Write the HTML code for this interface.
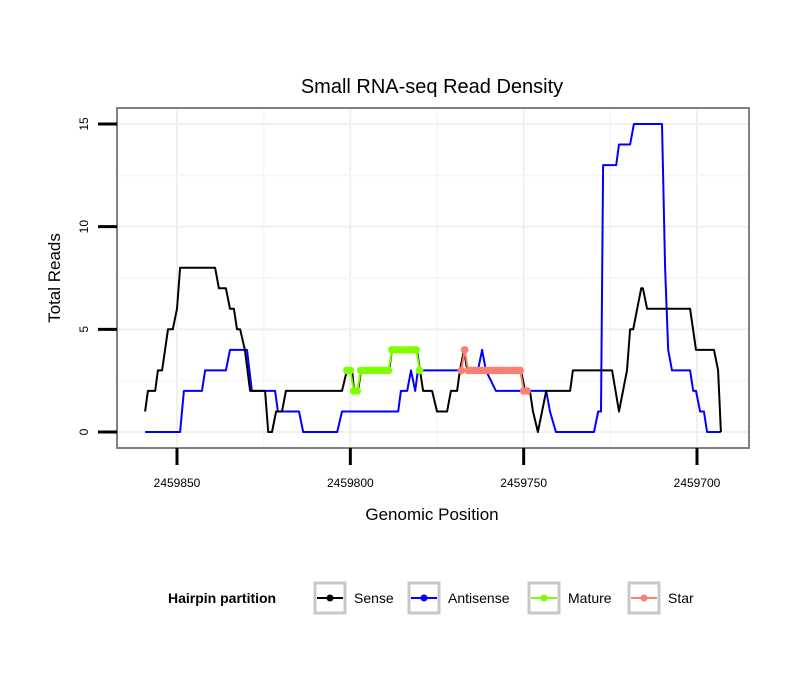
<!DOCTYPE html>
<html><head><meta charset="utf-8"><style>
body{margin:0;background:#fff;}
svg{display:block;font-family:"Liberation Sans",sans-serif;}
</style></head><body>
<svg id="chart" width="810" height="690" viewBox="0 0 810 690">
<rect x="0" y="0" width="810" height="690" fill="#fff"/>
<text x="432" y="93" font-size="20" text-anchor="middle">Small RNA-seq Read Density</text>
<g id="grid"></g>
<g id="series"></g>
<rect x="117" y="108" width="632" height="340" fill="none" stroke="#808080" stroke-width="2"/>
<g id="axes"></g>
<text x="432" y="520" font-size="17" text-anchor="middle">Genomic Position</text>
<text transform="translate(60,278) rotate(-90)" font-size="17" text-anchor="middle">Total Reads</text>
<g>
<text x="168" y="603" font-size="14" font-weight="bold">Hairpin partition</text>
<g>
<rect x="315" y="583" width="30" height="30" fill="#fff" stroke="#c8c8c8" stroke-width="3"/>
<line x1="317" y1="598" x2="343" y2="598" stroke="#000" stroke-width="2"/><circle cx="330" cy="598" r="3.5" fill="#000"/>
<text x="354" y="603" font-size="14">Sense</text></g>
<g>
<rect x="409" y="583" width="30" height="30" fill="#fff" stroke="#c8c8c8" stroke-width="3"/>
<line x1="411" y1="598" x2="437" y2="598" stroke="#0000ff" stroke-width="2"/><circle cx="424" cy="598" r="3.5" fill="#0000ff"/>
<text x="448" y="603" font-size="14">Antisense</text></g>
<g>
<rect x="529" y="583" width="30" height="30" fill="#fff" stroke="#c8c8c8" stroke-width="3"/>
<line x1="531" y1="598" x2="557" y2="598" stroke="#7fff00" stroke-width="2"/><circle cx="544" cy="598" r="3.5" fill="#7fff00"/>
<text x="568" y="603" font-size="14">Mature</text></g>
<g>
<rect x="629" y="583" width="30" height="30" fill="#fff" stroke="#c8c8c8" stroke-width="3"/>
<line x1="631" y1="598" x2="657" y2="598" stroke="#fa8072" stroke-width="2"/><circle cx="644" cy="598" r="3.5" fill="#fa8072"/>
<text x="668" y="603" font-size="14">Star</text></g>
</g>
</svg>
<script>
const xTicks = [2459850, 2459800, 2459750, 2459700];
const yTicks = [0, 5, 10, 15];
const senseX = [2459859.2,2459858.4,2459856.3,2459855.5,2459854.3,2459852.6,2459851.2,2459850,2459849.1,2459839.0,2459837.9,2459835.9,2459834.7,2459833.6,2459832.7,2459831.8,2459830.4,2459828.9,2459824.6,2459823.7,2459822.6,2459821.4,2459819.7,2459818.6,2459802.4,2459801.0,2459799.5,2459798.9,2459797.8,2459796.9,2459788.8,2459788.0,2459780.8,2459779.9,2459779.0,2459776.4,2459775.0,2459772.1,2459771.0,2459769.2,2459768.4,2459767.2,2459766.3,2459750.8,2459749.6,2459748.2,2459747.3,2459745.9,2459743.5,2459736.6,2459735.8,2459724.5,2459722.5,2459720.2,2459719.3,2459718.4,2459716.1,2459715.6,2459714.4,2459702.0,2459700.3,2459695.1,2459693.9,2459693.1];
const senseY = [1,2,2,3,3,5,5,6,8,8,7,7,6,6,5,5,4,2,2,0,0,1,1,2,2,3,3,2,2,3,3,4,4,3,2,2,1,1,2,2,3,4,3,3,2,2,1,0,2,2,3,3,1,3,5,5,7,7,6,6,4,4,3,0];
const antiX = [2459859.2,2459849.1,2459848.0,2459842.8,2459841.9,2459835.9,2459834.7,2459829.8,2459828.4,2459821.7,2459820.9,2459814.8,2459813.6,2459803.8,2459802.4,2459786.2,2459785.4,2459783.6,2459782.5,2459781.3,2459780.5,2459763.2,2459762.0,2459760.9,2459758.0,2459743.5,2459742.4,2459740.7,2459729.7,2459728.5,2459727.7,2459727.1,2459723.3,2459722.5,2459719.3,2459718.2,2459710.1,2459709.2,2459708.3,2459707.2,2459702.0,2459701.1,2459700.3,2459699.1,2459698.0,2459697.1,2459693.1];
const antiY = [0,0,2,2,3,3,4,4,2,2,1,1,0,0,1,1,2,2,3,2,3,3,4,3,2,2,1,0,0,1,1,13,13,14,14,15,15,8,4,3,3,2,2,1,1,0,0];
const matureX = [2459801,2459800,2459799,2459798,2459797,2459796,2459795,2459794,2459793,2459792,2459791,2459790,2459789,2459788,2459787,2459786,2459785,2459784,2459783,2459782,2459781,2459780];
const matureY = [3,3,2,2,3,3,3,3,3,3,3,3,3,4,4,4,4,4,4,4,4,3];
const starX = [2459768,2459767,2459766,2459765,2459764,2459763,2459762,2459761,2459760,2459759,2459758,2459757,2459756,2459755,2459754,2459753,2459752,2459751,2459750,2459749];
const starY = [3,4,3,3,3,3,3,3,3,3,3,3,3,3,3,3,3,3,2,2];

const NS = "http://www.w3.org/2000/svg";
const xs = p => 177 + (2459850 - p) * (520 / 150);
const ys = v => 432 - v * (308 / 15);
const grid = document.getElementById('grid');
const series = document.getElementById('series');
const axes = document.getElementById('axes');
function mk(tag, attrs, parent){const e=document.createElementNS(NS,tag);for(const k in attrs)e.setAttribute(k,attrs[k]);parent.appendChild(e);return e;}

for (let i = 0; i < xTicks.length; i++) {
  const x = xs(xTicks[i]);
  const g = mk('line',{x1:x,x2:x,y1:109,y2:447,stroke:'#f0f0f0','stroke-width':2},grid);
  
  
  if (i < xTicks.length - 1) {
    const xm = xs((xTicks[i] + xTicks[i+1]) / 2);
    const gm = mk('line',{x1:xm,x2:xm,y1:109,y2:447,stroke:'#f6f6f6','stroke-width':1.5},grid);
    
    
  }
  const t = mk('line',{x1:x,x2:x,y1:448,y2:465,stroke:'#000','stroke-width':3},axes);
  
  
  const l = mk('text',{x:x,y:487,'font-size':12,'text-anchor':'middle'},axes);
  l.textContent = xTicks[i];
  
  
}
for (let i = 0; i < yTicks.length; i++) {
  const y = ys(yTicks[i]);
  const g = mk('line',{x1:118,x2:748,y1:y,y2:y,stroke:'#f0f0f0','stroke-width':2},grid);
  
  
  if (i < yTicks.length - 1) {
    const ym = ys((yTicks[i] + yTicks[i+1]) / 2);
    const gm = mk('line',{x1:118,x2:748,y1:ym,y2:ym,stroke:'#f6f6f6','stroke-width':1.5},grid);
    
    
  }
  const t = mk('line',{x1:98,x2:117,y1:y,y2:y,stroke:'#000','stroke-width':3},axes);
  
  
  const l = mk('text',{transform:`translate(88,${y}) rotate(-90)`,'font-size':12,'text-anchor':'middle'},axes);
  l.textContent = yTicks[i];
  
  
}
function line(X, Y, color, name) {
  const pts = X.map((p, i) => xs(p).toFixed(1) + ',' + ys(Y[i]).toFixed(1)).join(' ');
  const pl = mk('polyline',{points:pts,fill:'none',stroke:color,'stroke-width':2,'stroke-linejoin':'round'},series);
  
  
}
function dots(X, Y, color, name) {
  for (let i = 0; i < X.length; i++) {
    const c = mk('circle',{cx:xs(X[i]),cy:ys(Y[i]),r:3.8,fill:color},series);
    
    
  }
}
line(antiX, antiY, '#0000ff', 'antisense-line');
line(senseX, senseY, '#000000', 'sense-line');
line(matureX, matureY, '#7fff00', 'mature-line');
dots(matureX, matureY, '#7fff00', 'mature-point');
line(starX, starY, '#fa8072', 'star-line');
dots(starX, starY, '#fa8072', 'star-point');
</script>
</body></html>
